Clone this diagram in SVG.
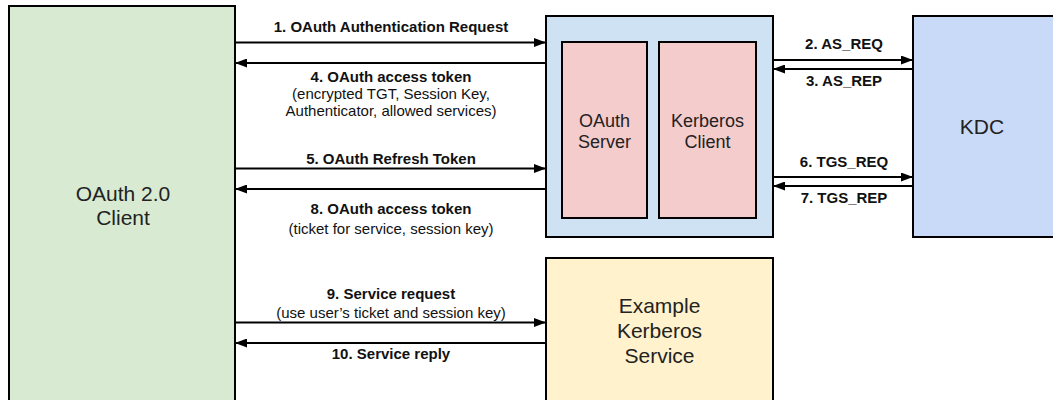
<svg xmlns="http://www.w3.org/2000/svg" width="1053" height="400" viewBox="0 0 1053 400">
<style>
.box{stroke:#000;stroke-width:2}
.node{font-family:"Liberation Sans",Arial,sans-serif;font-size:21px;fill:#222;text-anchor:middle}
.inner{font-family:"Liberation Sans",Arial,sans-serif;font-size:18px;fill:#222;text-anchor:middle}
.lb{font-family:"Liberation Sans",Arial,sans-serif;font-size:15px;font-weight:bold;fill:#111;text-anchor:middle}
.lr{font-family:"Liberation Sans",Arial,sans-serif;font-size:15px;fill:#111;text-anchor:middle}
.c{stroke:#000;stroke-width:2;fill:none}
</style>
<defs>
<marker id="ah" viewBox="0 0 12 9" refX="12" refY="4.5" markerWidth="12" markerHeight="9" markerUnits="userSpaceOnUse" orient="auto">
<path d="M0,0 L12,4.5 L0,9 z" fill="#000"/>
</marker>
</defs>
<rect width="1053" height="400" fill="#fff"/>
<g id="client">
<rect class="box" x="9" y="6" width="226" height="400" fill="#d9ead3"/>
<text class="node" x="123" y="201">OAuth 2.0</text>
<text class="node" x="123" y="225">Client</text>
</g>
<g id="gateway">
<rect class="box" x="546" y="16" width="227" height="221" fill="#cfe2f3"/>
</g>
<g id="oauth-server">
<rect class="box" x="562" y="42" width="85" height="176" fill="#f4cccc"/>
<text class="inner" x="604.5" y="126.5">OAuth</text>
<text class="inner" x="604.5" y="148">Server</text>
</g>
<g id="kerberos-client">
<rect class="box" x="659" y="42" width="97" height="176" fill="#f4cccc"/>
<text class="inner" x="707.5" y="126.5">Kerberos</text>
<text class="inner" x="707.5" y="148">Client</text>
</g>
<g id="kdc">
<rect class="box" x="913" y="16" width="150" height="221" fill="#c9daf8"/>
<text class="node" x="982" y="134">KDC</text>
</g>
<g id="service">
<rect class="box" x="546" y="258" width="227" height="150" fill="#fff2cc"/>
<text class="node" x="659.5" y="312.5">Example</text>
<text class="node" x="659.5" y="337.5">Kerberos</text>
<text class="node" x="659.5" y="362.5">Service</text>
</g>
<g id="connectors">
<line class="c" x1="235" y1="42.5" x2="546" y2="42.5" marker-end="url(#ah)"/>
<line class="c" x1="546" y1="63" x2="235" y2="63" marker-end="url(#ah)"/>
<line class="c" x1="235" y1="168.5" x2="546" y2="168.5" marker-end="url(#ah)"/>
<line class="c" x1="546" y1="189" x2="235" y2="189" marker-end="url(#ah)"/>
<line class="c" x1="235" y1="322.5" x2="546" y2="322.5" marker-end="url(#ah)"/>
<line class="c" x1="546" y1="343" x2="235" y2="343" marker-end="url(#ah)"/>
<line class="c" x1="773" y1="60" x2="913" y2="60" marker-end="url(#ah)"/>
<line class="c" x1="913" y1="69" x2="773" y2="69" marker-end="url(#ah)"/>
<line class="c" x1="773" y1="177" x2="913" y2="177" marker-end="url(#ah)"/>
<line class="c" x1="913" y1="186" x2="773" y2="186" marker-end="url(#ah)"/>
<text class="lb" x="391" y="32">1. OAuth Authentication Request</text>
<text class="lb" x="391" y="82">4. OAuth access token</text>
<text class="lr" x="391" y="99">(encrypted TGT, Session Key,</text>
<text class="lr" x="391" y="116">Authenticator, allowed services)</text>
<text class="lb" x="391" y="163.5">5. OAuth Refresh Token</text>
<text class="lb" x="391" y="214">8. OAuth access token</text>
<text class="lr" x="391" y="234">(ticket for service, session key)</text>
<text class="lb" x="391" y="298.5">9. Service request</text>
<text class="lr" x="391" y="318">(use user’s ticket and session key)</text>
<text class="lb" x="391" y="359">10. Service reply</text>
<text class="lb" x="844" y="48.5">2. AS_REQ</text>
<text class="lb" x="844" y="85.5">3. AS_REP</text>
<text class="lb" x="844" y="167">6. TGS_REQ</text>
<text class="lb" x="844" y="203">7. TGS_REP</text>
</g>
</svg>
